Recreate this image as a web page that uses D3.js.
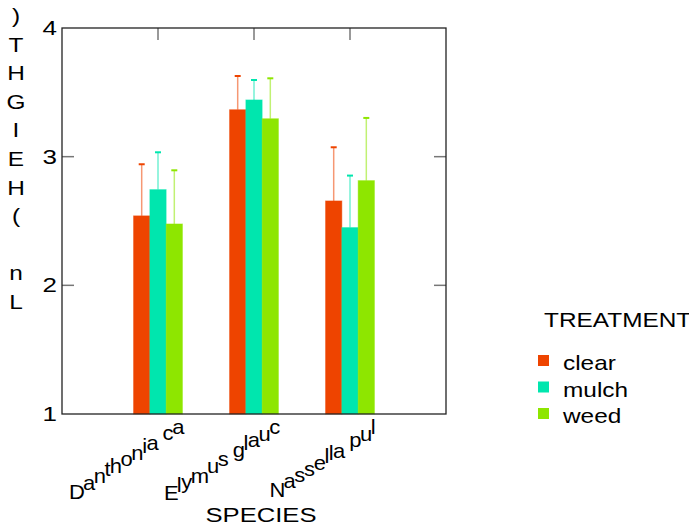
<!DOCTYPE html>
<html lang="en">
<head>
    <meta charset="UTF-8">
    <title>Ln(HEIGHT) by SPECIES</title>
    <style>
        body { margin: 0; padding: 0; background: #ffffff; }
        svg { display: block; font-family: 'Liberation Sans', Arial, sans-serif; }
    </style>
</head>
<body>
    <svg id="chart" width="689" height="527"></svg>
    <script src="https://d3js.org/d3.v7.min.js"></script>
    <script>
        const species = ["Danthonia ca", "Elymus glauc", "Nassella pul"];
        const treatments = ["clear", "mulch", "weed"];
        const colors = ["#ee4400", "#00e6ae", "#8ee600"];
        // mean of Ln(HEIGHT) per species, one array per treatment
        const clearMeans = [2.54, 3.365, 2.656];
        const mulchMeans = [2.744, 3.441, 2.449];
        const weedMeans = [2.477, 3.295, 2.814];
        // upper end of the error bar
        const clearUpper = [2.941, 3.627, 3.073];
        const mulchUpper = [3.034, 3.596, 2.853];
        const weedUpper = [2.894, 3.609, 3.301];
        const yTicks = [1, 2, 3, 4];
        const yTitle = "Ln (HEIGHT)";

        const means = [clearMeans, mulchMeans, weedMeans];
        const uppers = [clearUpper, mulchUpper, weedUpper];

        const svg = d3.select("#chart");
        const plotL = 62, plotR = 446, plotT = 28, plotB = 414;
        const stretch = 1.22; // the original type is drawn wider than it is tall

        // text drawn with a horizontal stretch around its anchor point
        function label(parent, tx, ty, str, size, anchor, sx) {
            return parent.append("text")
                .attr("transform", `translate(${tx},${ty}) scale(${sx || stretch},1)`)
                .attr("text-anchor", anchor || "start")
                .attr("font-size", size).attr("fill", "#000")
                .text(str);
        }

        const x = d3.scaleLinear().domain([0, species.length + 1]).range([plotL, plotR]);
        const y = d3.scaleLinear().domain([1, 4]).range([plotB, plotT]);
        const barW = 16.3;

        // frame ticks (inward)
        const tickColor = "#777";
        svg.append("g").selectAll("line").data(species).enter().append("line")
            .attr("x1", (d, i) => x(i + 1)).attr("x2", (d, i) => x(i + 1))
            .attr("y1", plotT).attr("y2", plotT + 12)
            .attr("stroke", tickColor).attr("stroke-width", 1.5);
        svg.append("g").selectAll("line").data(species).enter().append("line")
            .attr("x1", (d, i) => x(i + 1)).attr("x2", (d, i) => x(i + 1))
            .attr("y1", plotB).attr("y2", plotB - 12)
            .attr("stroke", tickColor).attr("stroke-width", 1.5);
        svg.append("g").selectAll("line").data(yTicks.slice(1, -1)).enter().append("line")
            .attr("x1", plotL).attr("x2", plotL + 12)
            .attr("y1", d => y(d)).attr("y2", d => y(d))
            .attr("stroke", tickColor).attr("stroke-width", 1.5);
        svg.append("g").selectAll("line").data(yTicks.slice(1, -1)).enter().append("line")
            .attr("x1", plotR).attr("x2", plotR - 12)
            .attr("y1", d => y(d)).attr("y2", d => y(d))
            .attr("stroke", tickColor).attr("stroke-width", 1.5);

        // bars and error bars
        treatments.forEach((t, k) => {
            const g = svg.append("g");
            const bx = i => x(i + 1) + (k - 1.5) * barW;
            g.selectAll("rect").data(means[k]).enter().append("rect")
                .attr("x", (d, i) => bx(i))
                .attr("y", d => y(d))
                .attr("width", barW)
                .attr("height", d => y(1) - y(d))
                .attr("fill", colors[k])
                .attr("stroke", colors[k]).attr("stroke-opacity", 0.45).attr("stroke-width", 1);
            g.selectAll("line.stem").data(uppers[k]).enter().append("line")
                .attr("x1", (d, i) => bx(i) + barW / 2).attr("x2", (d, i) => bx(i) + barW / 2)
                .attr("y1", (d, i) => y(means[k][i])).attr("y2", d => y(d))
                .attr("stroke", colors[k]).attr("stroke-opacity", 0.55).attr("stroke-width", 1.5);
            g.selectAll("line.cap").data(uppers[k]).enter().append("line")
                .attr("x1", (d, i) => bx(i) + barW / 2 - 3).attr("x2", (d, i) => bx(i) + barW / 2 + 3)
                .attr("y1", d => y(d)).attr("y2", d => y(d))
                .attr("stroke", colors[k]).attr("stroke-width", 2);
        });

        // frame
        svg.append("rect")
            .attr("x", plotL).attr("y", plotT)
            .attr("width", plotR - plotL).attr("height", plotB - plotT)
            .attr("fill", "none").attr("stroke", "#222").attr("stroke-width", 1.3);

        // y tick labels
        yTicks.forEach(d => label(svg, 57, y(d) + 7, d, 20, "end", 1.3));

        // y title: upright letters stacked bottom to top, in one text element
        const yt = label(svg, 16, 309, "", 20, "middle");
        yt.selectAll("tspan").data(yTitle.split("")).enter().append("tspan")
            .attr("x", 0).attr("y", (d, i) => -i * 28.6)
            .text(d => d === " " ? "\u00a0" : d);

        // x tick labels: upright glyphs laid along a sloped baseline
        const ang = 32 * Math.PI / 180;
        const glyphStretch = 1.1;
        const spread = 1.14;
        species.forEach((name, i) => {
            const chars = name.split("");
            const widths = chars.map(c => {
                const t = svg.append("text").attr("font-size", 20).text(c === " " ? "\u00a0" : c);
                const w = t.node().getComputedTextLength();
                t.remove();
                return w * spread;
            });
            const total = d3.sum(widths);
            const ex = x(i + 1) + 25, ey = 434;
            const sx = ex - total * Math.cos(ang);
            const sy = ey + (total - widths[widths.length - 1]) * Math.sin(ang);
            const offs = widths.map((w, j) => d3.sum(widths.slice(0, j)));
            const t = label(svg, sx, sy, "", 20, "start", glyphStretch);
            t.selectAll("tspan").data(chars).enter().append("tspan")
                .attr("x", (d, j) => offs[j] * Math.cos(ang) / glyphStretch)
                .attr("y", (d, j) => -offs[j] * Math.sin(ang))
                .text(d => d === " " ? "\u00a0" : d);
        });

        label(svg, 261, 522, "SPECIES", 21, "middle");

        // legend
        label(svg, 544, 327, "TREATMENT", 20);
        const leg = svg.append("g").selectAll("g").data(treatments).enter().append("g")
            .attr("transform", (d, i) => `translate(538, ${355 + i * 26.5})`);
        leg.append("rect").attr("width", 11).attr("height", 11)
            .attr("fill", (d, i) => colors[i]);
        leg.each(function(d) { label(d3.select(this), 25, 15, d, 20); });
    </script>
</body>
</html>
